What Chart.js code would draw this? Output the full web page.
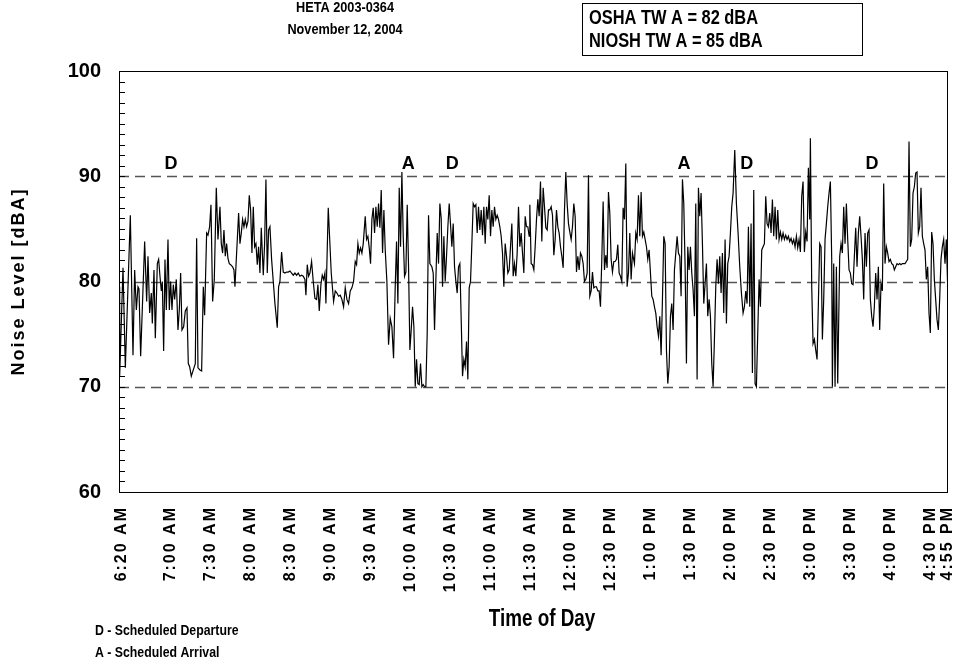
<!DOCTYPE html>
<html>
<head>
<meta charset="utf-8">
<title>Noise Level - HETA 2003-0364</title>
<script src="https://cdn.jsdelivr.net/npm/chart.js@4.4.1/dist/chart.umd.min.js"></script>
<style>
  html, body { margin: 0; padding: 0; background: #fff; }
</style>
</head>
<body>
<canvas id="noiseChart" width="960" height="666"></canvas>
<script>
// position of each reading along the record (axis units)
const sample = [
  0, 0.5, 3, 4.75, 8.5, 10.5, 11.75, 13, 14.25, 15, 16.25, 19.25, 20.75, 21.75, 23, 24.25, 25, 26.25, 27.25, 28.75,
  29.75, 30.75, 31.75, 32.5, 33.5, 34.5, 35.5, 36.75, 37.75, 38.75, 39.75, 40.75, 41.75, 43, 44.25, 45.25, 46.25, 47.25,
  48.5, 49.75, 51, 52, 53, 54.25, 55.75, 57.25, 58.25, 59.25, 60.75, 62, 63.25, 64.25, 65.75, 66.75, 68, 69, 70.25,
  71.5, 73, 74.25, 75.75, 76.75, 77.75,
  78.75, 79.75, 80.75, 81.75, 82.75, 83.75, 85.25, 86.25, 87, 88.25, 89.75, 90.75, 91.75, 92.75, 93.75, 94.75, 95.75,
  96.75, 97.75, 98.75, 99.75, 100.75, 101.75, 102.75, 103.75, 104.75, 105.75, 106.75, 108.25, 109.25, 110.25, 111.25,
  112.25, 113.25, 114.5, 115.75, 117, 118.75, 119.75, 120.75, 122, 123.25, 124.5, 125.75, 127, 128.25, 129.5, 130.75,
  132, 133.25, 134.5, 135.75, 137, 138.25, 139.5, 140.25, 141.25, 142.25, 143.25, 144.5, 145.75, 147, 148.25, 149.25,
  150.25, 151.5, 152.5, 153.5, 154.5, 155.25, 157,
  159.25, 161, 162.25, 163.5, 164.75, 166, 167.25, 168.5, 169.75, 171, 172.25, 173.5, 174.75, 176, 177.25, 178.25,
  179.25, 180.25, 181.25, 182.25, 183.25, 184.75, 185.75, 186.75, 187.75, 188.75, 189.75, 190.75, 191.75, 192.75,
  193.75, 194.75, 195.75, 196.75, 197.75, 198.75, 199.75, 201, 202.25, 203.5, 204.75, 206, 207.25, 208.25, 209.25,
  210.25, 211.25, 212.25, 213.25, 214.25, 215.25, 216.25, 217.25, 218.25, 219.25, 220.25, 221.25, 222.25, 223.25,
  224.25, 225.25, 226.25, 227.25, 228.25, 229.25, 230.25, 231.25, 232.25,
  233.25, 234.75, 235.75, 236.75, 237.75, 238.75, 239.75, 240.75, 241.75, 242.75, 243.75, 244.75, 245.75, 246.75,
  247.75, 248.75, 249.75, 250.75, 251.75, 252.75, 253.75, 254.75, 255.75, 256.75, 257.75, 258.75, 259.75, 260.75,
  261.75, 262.75, 263.75, 264.75, 265.75, 266.75, 267.75, 268.75, 269.75, 270.75, 271.75, 272.75, 273.75, 274.75,
  275.75, 276.75, 277.75, 278.75, 279.75, 280.75, 281.75, 282.75, 283.75, 284.75, 285.75, 286.75, 287.75, 288.75,
  289.75, 290.75, 291.75, 292.75, 293.75, 294.75, 295.75, 296.75, 297.75, 298.75, 299.75, 300.75, 301.75, 302.75,
  303.75, 304.75, 305.75, 306.75, 307.75,
  308.25, 309.25, 310.25, 311.25, 312.25, 313.25, 314.25, 315.25, 316.25, 317.25, 318.25, 319.25, 320.25, 321.25,
  322.25, 323.25, 324.25, 325.25, 326.25, 327.25, 328.25, 329.25, 330.25, 331.25, 332.25, 333.25, 334.25, 335.25,
  336.25, 337.25, 338.25, 339.25, 340.25, 341.25, 342.25, 343.25, 344.25, 345.25, 346.25, 347.25, 348.25, 349.25,
  350.25, 351.25, 352.25, 353.25, 354.25, 355.25, 356.25, 357.25, 358.25, 359.25, 360.25, 361.25, 362.25, 363.25,
  364.25, 365.25, 366.25, 367.25, 368.25, 369.25, 370.25, 371.25, 372.25, 373.25, 374.25, 375.25, 376.25, 377.25,
  378.25, 379.25, 380.25, 381.25, 382.25, 383.25, 384.25, 385.25,
  386.75, 387.75, 388.75, 389.75, 390.75, 391.75, 392.75, 393.75, 394.75, 395.75, 396.75, 397.75, 398.75, 399.75,
  400.75, 401.75, 402.75, 403.75, 404.75, 405.75, 406.75, 407.75, 408.75, 409.75, 410.75, 411.75, 412.75, 413.75,
  414.75, 415.75, 416.75, 417.75, 418.75, 419.75, 420.75, 421.75, 422.75, 423.75, 424.75, 425.75, 426.75, 427.75,
  428.75, 429.75, 430.75, 431.75, 432.75, 433.75, 434.75, 435.75, 436.75, 437.75, 438.75, 439.75, 440.75, 441.75,
  442.75, 443.75, 444.75, 445.75, 446.75, 447.75, 448.75, 449.75, 450.75, 451.75, 452.75, 453.75, 454.75, 455.75,
  456.75, 457.75, 458.75, 459.75, 460.75,
  462, 463.25, 464.5, 465.75, 467, 468.25, 469.25, 470.25, 471.25, 472.25, 473.25, 474.25, 475.25, 476.25, 477.25,
  478.25, 479.25, 480.25, 481.25, 482.25, 483.25, 484.25, 485.25, 486.25, 487.25, 488.25, 489.25, 490.25, 491.25,
  492.25, 493.25, 494.25, 495.25, 496.25, 497.25, 498.25, 499.25, 500.25, 501.25, 502.25, 503.25, 504.25, 505.25,
  506.25, 507.25, 508.25, 509.25, 510.25, 511.25, 512.25, 513.25, 514.25, 515.25, 516.25, 517.25, 518.25, 518.75,
  519.75, 520.75, 521.75, 522.75, 523.75, 524.75, 525.75, 526.75, 527.75, 528.75, 529.75, 530.75, 531.75, 532.75,
  533.75, 534.75,
  535.25, 536.25, 537.25, 538.25, 539.25, 540.75, 541.75, 542.75, 543.75, 544.75, 545.75, 546.75, 547.75, 548.75,
  549.75, 550.75, 551.75, 552.75, 553.75, 554.75, 555.75, 556.75, 557.75, 558.75, 559.75, 560.75, 561.75, 562.75,
  563.75, 564.75, 565.75, 566.75, 567.75, 568.75, 569.75, 570.75, 571.75, 572.75, 573.75, 574.75, 575.75, 576.75,
  577.75, 578.75, 579.75, 580.75, 581.75, 582.75, 583.75, 584.75, 585.75, 586.75, 587.75, 588.75, 589.75, 590.75,
  591.75, 592.75, 593.75, 594.75, 595.75, 596.75, 597.75, 598.75, 599.75, 600.75, 601.75, 602.75, 603.75, 604.75,
  605.75, 606.75, 607.75, 608.75, 609.75, 610.75, 611.75, 612.75, 613.75, 614.75, 615.75, 616.75, 617.75, 618.75,
  619.75, 620.75, 621.75
];

// noise level in dBA at each reading
const level = [
  79.5, 71.0, 81.3, 71.8, 86.3, 73.0, 81.1, 77.3, 79.5, 79.3, 72.9, 83.8, 78.1, 82.4, 77.0, 78.9, 76.0, 81.1, 74.6, 81.7,
  82.1, 80.5, 79.1, 80.0, 73.4, 82.1, 77.3, 84.0, 77.3, 80.0, 77.3, 79.7, 78.3, 80.2, 75.4, 77.3, 80.8, 75.4,
  75.7, 77.2, 77.5, 72.2, 71.9, 71.0, 71.6, 72.2, 84.1, 71.8, 71.6, 71.5, 79.5, 76.8, 84.6, 84.4, 85.2, 87.3, 78.1,
  80.2, 88.9, 84.0, 87.1, 83.6, 82.7,
  84.9, 82.4, 83.6, 82.2, 81.7, 81.6, 81.4, 81.1, 79.5, 82.7, 86.5, 83.6, 84.6, 85.9, 85.2, 85.9, 85.2,
  85.7, 88.2, 86.8, 82.7, 87.1, 83.3, 83.6, 81.6, 83.3, 80.8, 85.1, 80.6, 83.6, 89.7, 80.8,
  84.9, 85.2, 82.1, 80.0, 77.9, 75.6, 79.5, 80.0, 82.8, 80.9, 80.8, 80.9, 80.9, 81.0, 80.8, 80.6,
  80.8, 80.6, 80.8, 80.5, 80.6, 80.5, 80.2, 78.7, 81.6, 80.5, 80.8, 81.9, 80.0, 78.4, 78.3, 79.7,
  77.2, 79.7, 80.6, 80.2, 80.8, 77.9, 87.0,
  80.8, 78.1, 79.1, 78.9, 78.6, 78.7, 78.3, 77.6, 79.4, 78.3, 77.9, 79.1, 79.4, 80.0, 81.9, 81.6,
  83.6, 82.7, 83.2, 82.7, 83.6, 86.2, 84.0, 84.3, 83.2, 81.7, 85.9, 87.0, 84.6, 87.1,
  85.2, 87.4, 85.1, 88.7, 82.7, 86.8, 83.0, 80.0, 74.0, 76.5, 75.7, 72.7, 79.5, 83.8, 77.9,
  88.9, 83.3, 90.4, 84.3, 80.5, 80.9, 87.3, 81.4, 73.5, 75.4, 77.6, 75.7, 70.0, 72.6,
  70.3, 70.2, 72.2, 70.0, 70.2, 70.0, 70.0, 75.1, 86.3,
  81.7, 81.4, 80.8, 75.4, 80.2, 84.6, 81.7, 87.4, 86.0, 79.5, 84.3, 80.0, 82.4, 85.2,
  87.4, 85.4, 83.3, 85.5, 81.4, 80.0, 78.9, 81.4, 81.7, 76.4, 71.0, 72.6, 71.9, 74.3,
  70.7, 79.4, 80.0, 83.6, 87.4, 87.1, 87.3, 84.6, 87.1, 84.9, 86.8, 84.4, 87.1, 83.6,
  87.1, 85.9, 88.2, 84.3, 86.8, 85.2, 87.1, 85.9, 86.3, 85.9, 85.2, 84.3, 82.7, 79.5,
  83.6, 82.4, 80.8, 81.1, 83.3, 85.5, 80.5, 81.7, 80.5, 82.7, 87.1, 83.3, 84.6, 82.7,
  80.8, 86.2, 85.2, 85.2, 84.3,
  87.3, 81.7, 81.6, 81.1, 83.3, 85.9, 87.8, 86.2, 89.5, 83.8, 88.9, 87.1, 85.1, 84.9,
  86.8, 86.8, 87.1, 86.3, 82.5, 84.0, 86.8, 85.2, 84.6, 83.3, 82.4, 81.3, 86.8, 90.4,
  87.4, 85.5, 84.7, 84.0, 85.2, 87.4, 86.2, 80.9, 82.4, 81.1, 82.7, 82.4, 81.7, 80.0,
  80.2, 80.8, 90.1, 78.6, 79.1, 80.9, 79.4, 79.5, 79.5, 79.1, 79.1, 77.6, 82.1, 87.6,
  81.1, 82.5, 81.3, 88.5, 86.5, 82.1, 80.9, 81.9, 81.9, 82.1, 83.5, 80.8, 80.5, 80.0,
  87.0, 85.9, 91.2, 79.5, 80.8, 84.6, 80.2, 82.7,
  81.7, 84.6, 84.0, 88.2, 84.3, 88.5, 84.3, 84.7, 84.0, 83.3, 82.1, 83.0, 80.8, 78.6,
  78.3, 77.6, 77.0, 75.7, 74.8, 76.7, 73.0, 78.3, 84.3, 83.6, 73.5, 70.3, 71.9, 76.7,
  77.9, 75.4, 81.1, 82.7, 84.3, 82.7, 82.4, 78.6, 89.7, 87.4, 81.4, 72.2, 83.3, 81.1,
  83.3, 80.8, 79.2, 76.7, 87.4, 70.7, 88.9, 86.2, 88.4, 83.6, 77.9, 79.8, 81.7, 76.7,
  78.3, 76.7, 72.2, 70.0, 74.5, 79.5, 82.1, 79.8, 82.4, 78.9, 82.7, 77.0, 84.0, 76.0,
  81.7, 82.4, 84.6, 87.1, 88.4,
  92.5, 87.4, 84.6, 81.4, 78.9, 77.0, 77.6, 79.1, 77.9, 85.2, 77.6, 85.5, 71.3, 88.7, 70.3,
  70.0, 75.1, 80.2, 77.6, 83.0, 83.3, 83.6, 88.1, 85.5, 85.2, 86.5, 84.6, 87.8, 84.3,
  87.1, 84.0, 86.8, 84.0, 84.7, 84.0, 84.6, 84.0, 84.4, 84.0, 84.3, 83.8, 84.1, 83.6,
  84.0, 83.3, 84.3, 83.2, 84.0, 82.8, 88.1, 89.5, 82.8, 84.7, 83.8, 90.8, 85.9, 93.6,
  79.5, 74.1, 74.5, 73.5, 72.6, 77.9, 83.6, 83.3, 74.5, 78.3, 84.0, 85.5, 87.1, 88.4,
  89.5, 82.1,
  70.0, 81.7, 70.0, 81.4, 70.3, 82.4, 83.6, 82.7, 87.1, 83.6, 87.4, 84.0, 81.1, 80.8,
  79.8, 79.7, 82.4, 85.1, 81.4, 84.6, 86.2, 84.3, 82.1, 78.3, 84.6, 81.4, 84.6, 84.9,
  78.3, 76.7, 75.7, 77.6, 80.8, 78.3, 81.4, 75.4, 79.8, 79.1, 89.3, 81.7, 83.3, 82.7,
  81.9, 82.1, 81.7, 81.6, 81.1, 81.4, 81.7, 81.6, 81.7, 81.6, 81.7, 81.7, 81.7, 81.9,
  82.1, 93.3, 83.3, 84.0, 88.4, 89.0, 90.3, 90.4, 84.6, 85.2, 88.9, 84.3, 83.6, 83.0,
  80.2, 81.4, 77.0, 75.1, 84.7, 83.6, 80.2, 78.3, 76.4, 75.4, 78.3, 82.1, 83.3, 84.0,
  81.7, 84.0, 79.5
];

// time-of-day labels and where they sit on the axis
const tickAt = [2, 39, 69, 99, 129, 159, 189, 219, 249, 279, 309, 339, 369, 399, 429, 459, 489, 519, 549, 579, 609, 622];
const tickLabels = ['6:20 AM', '7:00 AM', '7:30 AM', '8:00 AM', '8:30 AM', '9:00 AM', '9:30 AM', '10:00 AM',
  '10:30 AM', '11:00 AM', '11:30 AM', '12:00 PM', '12:30 PM', '1:00 PM', '1:30 PM', '2:00 PM', '2:30 PM',
  '3:00 PM', '3:30 PM', '4:00 PM', '4:30 PM', '4:55 PM'];

// scheduled departures (D) and arrivals (A)
const eventAt = [39, 217, 250, 424, 471, 565];
const eventCode = ['D', 'A', 'D', 'A', 'D', 'D'];
const eventLevel = 91.2;

// dashed reference levels
const refLevels = [70, 80, 90];

const FAM = '"Liberation Sans", Arial, sans-serif';

// Arial Narrow look: Liberation Sans squeezed horizontally
function narrowText(ctx, text, x, y, size, align) {
  ctx.save();
  ctx.translate(x, y);
  ctx.scale(0.82, 1);
  ctx.font = 'bold ' + size + 'px ' + FAM;
  ctx.textAlign = align;
  ctx.textBaseline = 'middle';
  ctx.fillStyle = '#000';
  ctx.fillText(text, 0, 0);
  ctx.restore();
}

const decor = {
  id: 'decor',
  beforeDatasetsDraw(chart) {
    const {ctx, chartArea: a, scales: {y}} = chart;
    ctx.save();
    ctx.strokeStyle = '#555';
    ctx.lineWidth = 1.5;
    ctx.setLineDash([10, 6]);
    refLevels.forEach(v => {
      const py = Math.round(y.getPixelForValue(v)) + 0.5;
      ctx.beginPath();
      ctx.moveTo(a.left, py);
      ctx.lineTo(a.right, py);
      ctx.stroke();
    });
    ctx.setLineDash([]);
    // small ticks every 1 dBA inside the left edge
    ctx.strokeStyle = '#000';
    ctx.lineWidth = 1;
    for (let v = 61; v < 100; v++) {
      const py = Math.round(y.getPixelForValue(v)) + 0.5;
      ctx.beginPath();
      ctx.moveTo(a.left, py);
      ctx.lineTo(a.left + 6, py);
      ctx.stroke();
    }
    ctx.restore();
  },
  afterDatasetsDraw(chart) {
    // rotated axis texts (x tick labels, y title) are drawn after this, spaced out
    chart.ctx.letterSpacing = '2px';
  },
  afterDraw(chart) {
    const {ctx, chartArea: a, scales: {x, y}} = chart;
    ctx.letterSpacing = '0px';
    ctx.save();
    ctx.strokeStyle = '#000';
    ctx.lineWidth = 1;
    ctx.strokeRect(a.left + 0.5, a.top + 0.5, a.right - a.left - 1, a.bottom - a.top);

    // D / A markers
    ctx.font = 'bold 18px ' + FAM;
    ctx.textAlign = 'center';
    ctx.textBaseline = 'middle';
    ctx.fillStyle = '#000';
    eventCode.forEach((c, i) => {
      ctx.fillText(c, x.getPixelForValue(eventAt[i]), y.getPixelForValue(eventLevel));
    });

    // heading
    narrowText(ctx, 'HETA 2003-0364', 345, 8, 15.5, 'center');
    narrowText(ctx, 'November 12, 2004', 345, 30, 15.5, 'center');

    // exposure box
    ctx.strokeRect(582.5, 3.5, 280, 52);
    narrowText(ctx, 'OSHA TW A = 82 dBA', 589, 18, 20, 'left');
    narrowText(ctx, 'NIOSH TW A = 85 dBA', 589, 41, 20, 'left');

    narrowText(ctx, 'Time of Day', 542, 620, 23, 'center');
    narrowText(ctx, 'D - Scheduled Departure', 95, 631, 15, 'left');
    narrowText(ctx, 'A - Scheduled Arrival', 95, 653, 15, 'left');
    ctx.restore();
  }
};

new Chart(document.getElementById('noiseChart'), {
  type: 'line',
  data: {
    datasets: [{
      label: 'Noise Level',
      data: sample.map((s, i) => ({x: s, y: level[i]})),
      borderColor: '#000',
      borderWidth: 1.2,
      pointRadius: 0,
      tension: 0,
      fill: false
    }]
  },
  options: {
    responsive: false,
    animation: false,
    devicePixelRatio: 1,
    layout: {padding: {top: 71, right: 12, bottom: 0, left: 0}},
    plugins: {legend: {display: false}, tooltip: {enabled: false}},
    scales: {
      x: {
        type: 'linear',
        min: 0,
        max: 622,
        afterBuildTicks: (s) => { s.ticks = tickAt.map(v => ({value: v})); },
        afterFit: (s) => { s.height = 174; s.paddingLeft = 0; s.paddingRight = 0; },
        grid: {display: false, drawTicks: false},
        border: {display: false},
        ticks: {
          autoSkip: false,
          minRotation: 90,
          maxRotation: 90,
          padding: 14,
          z: 1,
          color: '#000',
          font: {family: FAM, size: 16, weight: 'bold'},
          callback: (v, i) => tickLabels[i]
        }
      },
      y: {
        min: 60,
        max: 100,
        afterFit: (s) => { s.width = 119; },
        grid: {display: false, drawTicks: false, z: 1},
        border: {display: false},
        ticks: {
          stepSize: 10,
          padding: 18,
          color: '#000',
          font: {family: FAM, size: 20, weight: 'bold'}
        },
        title: {
          display: true,
          text: 'Noise Level [dBA]',
          color: '#000',
          font: {family: FAM, size: 18, weight: 'bold'},
          padding: {top: 8, bottom: 0}
        }
      }
    }
  },
  plugins: [decor]
});
</script>
</body>
</html>
